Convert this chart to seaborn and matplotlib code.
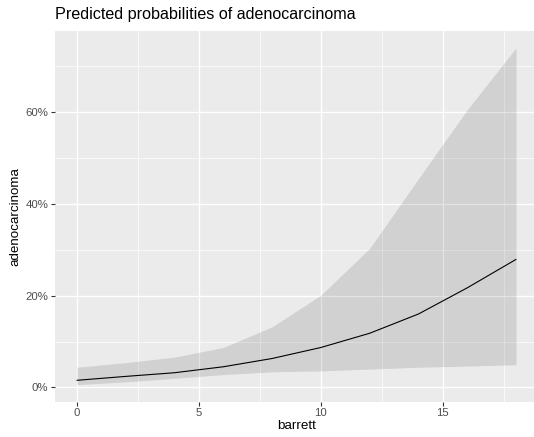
import numpy as np
import pandas as pd
import matplotlib
matplotlib.use("Agg")
import matplotlib.pyplot as plt
import seaborn as sns
from matplotlib.ticker import FixedLocator, FuncFormatter

barrett = [0, 2, 4, 6, 8, 10, 12, 14, 16, 18]
predicted = [1.55, 2.4, 3.2, 4.5, 6.3, 8.7, 11.8, 16.0, 21.7, 27.9]
conf_low = [0.6, 1.2, 2.0, 2.8, 3.4, 3.6, 4.0, 4.4, 4.65, 4.95]
conf_high = [4.4, 5.4, 6.6, 8.7, 13.2, 20.1, 30.3, 45.5, 60.5, 74.0]

df = pd.DataFrame({"barrett": barrett,
                   "predicted": np.array(predicted) / 100,
                   "low": np.array(conf_low) / 100,
                   "high": np.array(conf_high) / 100})

sns.set_theme(style="darkgrid")
plt.rcParams["font.family"] = ["Liberation Sans", "DejaVu Sans"]

W, H = 534, 437
fig = plt.figure(figsize=(W / 100, H / 100), dpi=100)
left, right, top, bottom = 55, 538, 31, 401.5
ax = fig.add_axes([left / W, (H - bottom) / H, (right - left) / W, (bottom - top) / H])
ax.set_facecolor("#EBEBEB")

ax.fill_between(df["barrett"], df["low"], df["high"], color="black", alpha=0.11, lw=0, zorder=2)
sns.lineplot(data=df, x="barrett", y="predicted", color="black", lw=0.8, ax=ax, zorder=3)

xmin, xmax = min(barrett), max(barrett)
xr = xmax - xmin
ax.set_xlim(xmin - 0.05 * xr, xmax + 0.05 * xr)
ymin, ymax = df["low"].min(), df["high"].max()
yr = ymax - ymin
ax.set_ylim(ymin - 0.05 * yr, ymax + 0.05 * yr)

ax.xaxis.set_major_locator(FixedLocator([0, 5, 10, 15]))
ax.xaxis.set_minor_locator(FixedLocator([2.5, 7.5, 12.5, 17.5]))
ax.yaxis.set_major_locator(FixedLocator([0, 0.2, 0.4, 0.6]))
ax.yaxis.set_minor_locator(FixedLocator([0.1, 0.3, 0.5, 0.7]))
ax.yaxis.set_major_formatter(FuncFormatter(lambda v, p: f"{v * 100:.0f}%"))

ax.grid(which="major", color="white", lw=1.0, zorder=1)
ax.grid(which="minor", color="white", lw=0.5, zorder=1)
ax.set_axisbelow(True)
for s in ax.spines.values():
    s.set_visible(False)

ax.tick_params(axis="both", which="major", bottom=True, left=True, length=3.2, width=0.8,
               color="#333333", labelsize=8.2, labelcolor="#4D4D4D", pad=1.5)
ax.tick_params(axis="both", which="minor", bottom=False, left=False, length=0)

ax.set_xlabel("barrett", fontsize=9.6, color="black", labelpad=1.5)
ax.set_ylabel("adenocarcinoma", fontsize=9.6, color="black", labelpad=3)
fig.text(55 / W, 1 - 7 / H, "Predicted probabilities of adenocarcinoma",
         fontsize=11.6, color="black", ha="left", va="top")

fig.savefig("out.png", dpi=100, facecolor="white")
